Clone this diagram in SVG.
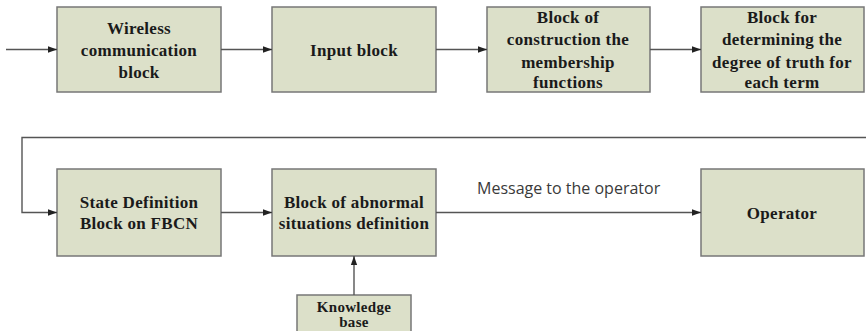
<svg xmlns="http://www.w3.org/2000/svg" width="866" height="331" viewBox="0 0 866 331">
<style>
.box{fill:#dce0c9;stroke:#777;stroke-width:1.5}
.t{font-family:"Liberation Serif","Times New Roman",serif;font-weight:bold;font-size:17px;letter-spacing:0.3px;fill:#1a1a1a;text-anchor:middle}
.s{font-size:15px}
.c{fill:none;stroke:#555;stroke-width:1.4}
.lbl{font-family:"Open Sans","Liberation Sans",sans-serif;font-size:16px;fill:#3a3a3a}
</style>
<defs>
<marker id="ah" viewBox="0 0 10 10" refX="10" refY="5" markerWidth="6.5" markerHeight="6.5" orient="auto" markerUnits="strokeWidth">
<path d="M0,1.5 L10,5 L0,8.5 z" fill="#222"/>
</marker>
</defs>
<rect width="866" height="331" fill="#fff"/>
<g id="n1"><rect class="box" x="57" y="7" width="164" height="85"/>
<text class="t" x="139" y="34">Wireless</text><text class="t" x="139" y="56">communication</text><text class="t" x="139" y="78">block</text></g>
<g id="n2"><rect class="box" x="272" y="7" width="164" height="85"/>
<text class="t" x="354" y="56">Input block</text></g>
<g id="n3"><rect class="box" x="487" y="7" width="163" height="85"/>
<text class="t" x="568" y="23">Block of</text><text class="t" x="568" y="45">construction the</text><text class="t" x="568" y="68">membership</text><text class="t" x="568" y="88">functions</text></g>
<g id="n4"><rect class="box" x="701" y="7" width="163" height="85"/>
<text class="t" x="782" y="23">Block for</text><text class="t" x="782" y="45">determining the</text><text class="t" x="782" y="68">degree of truth for</text><text class="t" x="782" y="88">each term</text></g>
<g id="n5"><rect class="box" x="57" y="169" width="164" height="87"/>
<text class="t" x="139" y="208">State Definition</text><text class="t" x="139" y="229">Block on FBCN</text></g>
<g id="n6"><rect class="box" x="272" y="169" width="164" height="87"/>
<text class="t" x="354" y="208">Block of abnormal</text><text class="t" x="354" y="229">situations definition</text></g>
<g id="n7"><rect class="box" x="701" y="169" width="163" height="87"/>
<text class="t" x="782" y="219">Operator</text></g>
<g id="n8"><rect class="box" x="297" y="295" width="114" height="50"/>
<text class="t s" x="354" y="312">Knowledge</text><text class="t s" x="354" y="327">base</text></g>
<g id="connectors">
<line class="c" x1="6" y1="49.5" x2="57" y2="49.5" marker-end="url(#ah)"/>
<line class="c" x1="221" y1="49.5" x2="272" y2="49.5" marker-end="url(#ah)"/>
<line class="c" x1="436" y1="49.5" x2="487" y2="49.5" marker-end="url(#ah)"/>
<line class="c" x1="650" y1="49.5" x2="701" y2="49.5" marker-end="url(#ah)"/>
<polyline class="c" points="866,137.5 22,137.5 22,212.5 57,212.5" marker-end="url(#ah)"/>
<line class="c" x1="221" y1="212.5" x2="272" y2="212.5" marker-end="url(#ah)"/>
<line class="c" x1="436" y1="212.5" x2="701" y2="212.5" marker-end="url(#ah)"/>
<line class="c" x1="354" y1="295" x2="354" y2="256" marker-end="url(#ah)"/>
<text class="lbl" x="477" y="194">Message to the operator</text>
</g>
</svg>
